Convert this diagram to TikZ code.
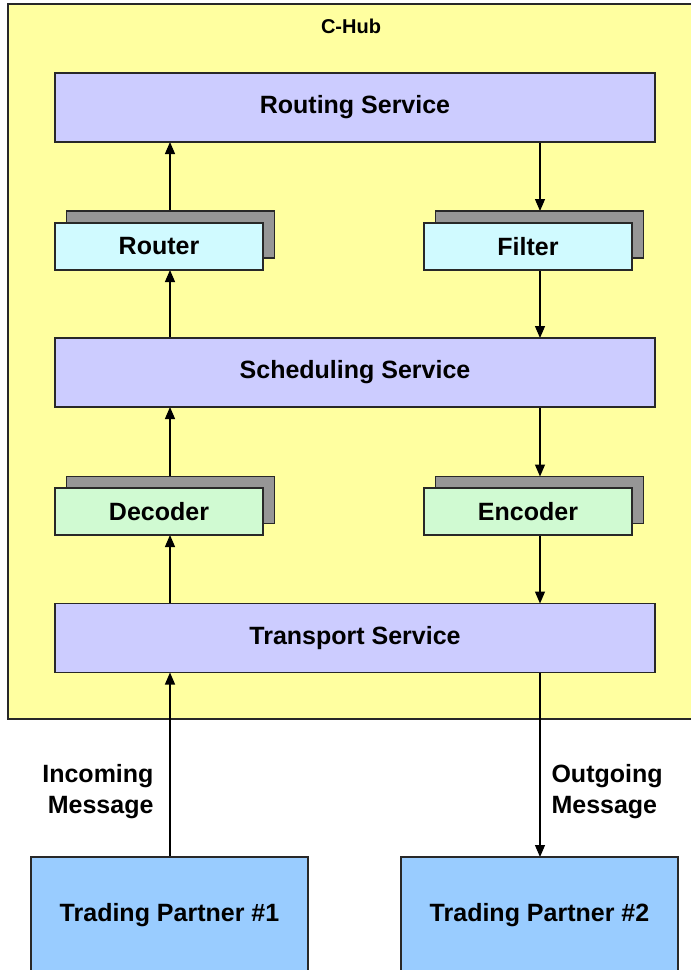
\documentclass[tikz,border=0pt]{standalone}
\usepackage{fontspec}
\setmainfont{Liberation Sans}
\usetikzlibrary{arrows.meta,calc}

\definecolor{hubfill}{RGB}{255,255,160}
\definecolor{servicefill}{RGB}{204,204,255}
\definecolor{routefill}{RGB}{208,250,255}
\definecolor{codecfill}{RGB}{208,250,210}
\definecolor{partnerfill}{RGB}{153,204,255}
\definecolor{platefill}{RGB}{150,150,150}
\definecolor{edge}{RGB}{40,40,40}

\pgfdeclarelayer{hub}
\pgfdeclarelayer{wires}
\pgfsetlayers{hub,wires,main}

\begin{document}
\begin{tikzpicture}[x=1pt,y=-1pt,
  txt/.style={font=\bfseries\fontsize{25}{31}\selectfont, text=black},
  box/.style={txt, draw=edge, line width=1.4pt, inner sep=0pt, outer sep=0pt},
  service/.style={box, fill=servicefill, minimum width=600pt, minimum height=69pt},
  module/.style={box, minimum width=208pt, minimum height=47pt},
  backplate/.style={draw=edge, line width=1.4pt, fill=platefill, inner sep=0pt, outer sep=0pt,
                    minimum width=208pt, minimum height=47pt},
  partner/.style={box, fill=partnerfill, minimum width=277pt, minimum height=116pt},
  flow/.style={draw=black, line width=1.2pt, -{Triangle[width=10pt,length=12pt]}}]

\useasboundingbox (0,0) rectangle (691,970);

% C-Hub container
\begin{pgfonlayer}{hub}
  \draw[fill=hubfill, draw=edge, line width=1.4pt] (8,4) rectangle (700,719);
\end{pgfonlayer}
\node[font=\bfseries\fontsize{20}{24}\selectfont] (title) at (351,26) {C-Hub};

% column lines for the two flows
\coordinate (colL) at (170,0);
\coordinate (colR) at (540,0);

% services
\node[service] (routing)    at (355,107.5) {Routing Service};
\node[service] (scheduling) at (355,372.5) {Scheduling Service};
\node[service] (transport)  at (355,638)   {Transport Service};

% router / filter with back plates
\node[backplate] (routerS) at (170.5,234.5) {};
\node[module, fill=routefill] (router) at (159,246.5) {Router};
\node[backplate] (filterS) at (539.5,234.5) {};
\node[module, fill=routefill] (filter) at (528,246.5) {Filter};

% decoder / encoder with back plates
\node[backplate] (decoderS) at (170.5,500) {};
\node[module, fill=codecfill] (decoder) at (159,511.5) {Decoder};
\node[backplate] (encoderS) at (539.5,500) {};
\node[module, fill=codecfill] (encoder) at (528,511.5) {Encoder};

% trading partners
\node[partner] (tp1) at (169.5,915) {Trading Partner \#1};
\node[partner] (tp2) at (539.5,915) {Trading Partner \#2};

% message labels
\node[txt, align=right, anchor=east] (inlbl)  at (157,792) {Incoming\\Message};
\node[txt, align=left,  anchor=west] (outlbl) at (548,792) {Outgoing\\Message};

% connectors
\begin{pgfonlayer}{wires}
  \draw[flow] (router.north -| colL)     -- (routing.south -| colL);
  \draw[flow] (routing.south -| colR)    -- (filterS.north -| colR);
  \draw[flow] (scheduling.north -| colL) -- (router.south -| colL);
  \draw[flow] (filter.south -| colR)     -- (scheduling.north -| colR);
  \draw[flow] (decoderS.north -| colL)   -- (scheduling.south -| colL);
  \draw[flow] (scheduling.south -| colR) -- (encoderS.north -| colR);
  \draw[flow] (transport.north -| colL)  -- (decoder.south -| colL);
  \draw[flow] (encoder.south -| colR)    -- (transport.north -| colR);
  \draw[flow] (tp1.north -| colL)        -- (transport.south -| colL);
  \draw[flow] (transport.south -| colR)  -- (tp2.north -| colR);
\end{pgfonlayer}

\end{tikzpicture}
\end{document}
